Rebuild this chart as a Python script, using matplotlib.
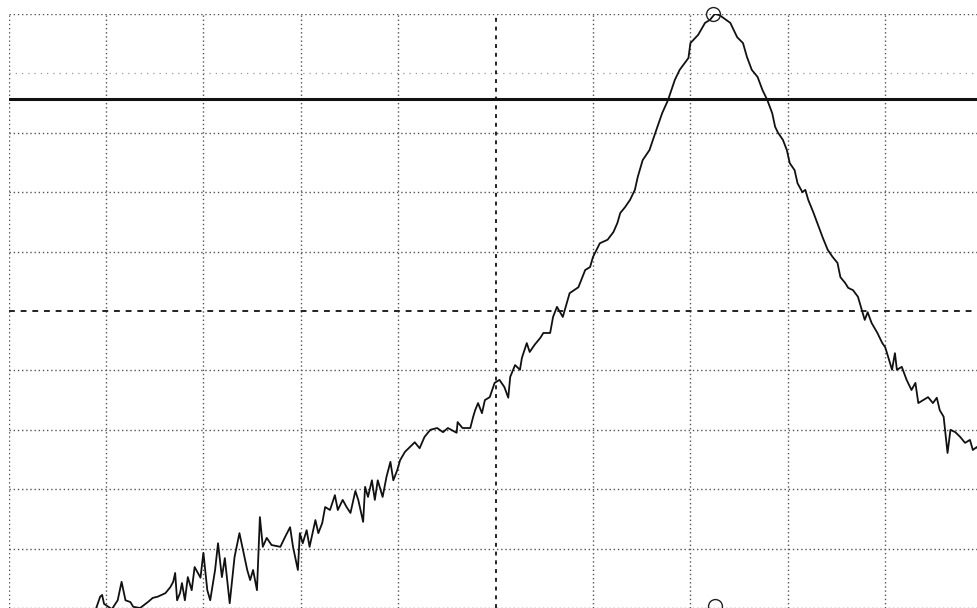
import matplotlib
matplotlib.use("Agg")
import matplotlib.pyplot as plt

# spectrum trace: frequency (span 0..100, 10 per div) and level in dB (10 dB/div)
freq = [9.0, 9.4, 9.6, 9.8, 10.6, 11.2, 11.6, 12.0, 12.5, 12.8, 13.5, 14.3, 14.8, 15.3,
        16.1, 16.6, 16.9, 17.1, 17.3, 17.6, 17.8, 18.1, 18.4, 18.8, 19.1, 19.7, 20.0, 20.4,
        20.7, 21.2, 21.5, 21.9, 22.2, 22.7, 23.2, 23.7, 24.0, 24.5, 24.8, 25.1, 25.5, 25.8,
        26.1, 26.5, 27.0, 27.9, 28.4, 28.9, 29.2, 29.7, 29.9, 30.2, 30.6, 30.9, 31.5, 31.8,
        32.2, 32.5, 33.0, 33.5, 33.8, 34.3, 34.7, 35.1, 35.6, 35.9, 36.4, 36.6, 36.9, 37.3,
        37.6, 37.9, 38.4, 38.8, 39.2, 39.5, 39.9, 40.2, 40.7, 41.2, 41.7, 42.2, 42.7, 43.3,
        44.0, 44.6, 45.1, 46.0, 46.1, 46.6, 47.4, 47.7, 47.9, 48.2, 48.6, 48.9, 49.4, 49.9,
        50.4, 50.9, 51.3, 51.5, 52.0, 52.5, 52.7, 53.2, 53.5, 54.0, 54.6, 54.9, 55.6, 55.9,
        56.3, 56.9, 57.6, 58.5, 59.2, 59.7, 60.0, 60.7, 61.5, 62.1, 62.5, 62.8, 63.3, 63.8,
        64.3, 64.6, 65.1, 65.8, 66.4, 67.1, 67.7, 68.4, 68.9, 69.8, 70.0, 70.8, 71.5, 72.0,
        72.5, 73.0, 74.1, 74.8, 75.4, 75.8, 76.3, 76.9, 77.4, 77.9, 78.4, 78.7, 79.0, 79.5,
        79.9, 80.2, 80.7, 81.0, 81.5, 81.8, 82.1, 82.6, 83.1, 83.6, 84.1, 84.6, 85.1, 85.4,
        85.9, 86.2, 86.7, 87.2, 87.6, 87.9, 88.2, 88.6, 89.2, 89.7, 90.0, 90.3, 90.7, 91.0,
        91.2, 91.7, 92.2, 92.7, 93.1, 93.4, 93.9, 94.4, 94.9, 95.3, 95.6, 96.0, 96.4, 96.7,
        97.2, 97.7, 98.2, 98.7, 99.0, 99.4, 99.7]
level = [-100.0, -98.1, -97.8, -99.3, -100.2, -98.7, -95.6, -98.7, -99.0, -99.8, -100.0, -99.0,
         -98.3, -98.1, -97.5, -96.5, -95.6, -94.1, -98.7, -97.5, -95.8, -98.7, -94.8, -97.0,
         -93.1, -94.9, -90.7, -97.0, -98.7, -93.6, -89.1, -94.8, -91.6, -99.2, -91.4, -87.4,
         -89.7, -93.6, -95.3, -93.6, -97.0, -84.7, -89.7, -88.2, -89.4, -89.7, -88.0, -86.4,
         -89.7, -93.6, -87.4, -89.1, -86.9, -89.7, -85.2, -87.4, -85.7, -83.0, -83.5, -81.0,
         -83.5, -81.8, -83.0, -84.0, -80.3, -81.8, -85.5, -79.6, -81.3, -78.5, -81.8, -78.5,
         -81.3, -77.9, -75.4, -78.5, -76.8, -75.1, -73.7, -72.9, -72.1, -73.1, -71.2, -70.0,
         -69.7, -70.4, -69.7, -70.5, -68.7, -69.7, -69.7, -67.8, -66.7, -65.5, -67.2, -65.0,
         -64.5, -62.1, -61.6, -62.8, -64.6, -61.1, -59.1, -59.9, -57.9, -55.4, -56.9, -55.7,
         -54.5, -53.7, -53.7, -51.0, -49.3, -51.0, -47.0, -46.0, -43.1, -42.6, -40.9, -38.6,
         -38.0, -36.7, -35.2, -33.5, -32.5, -31.3, -29.6, -27.4, -24.6, -22.9, -20.0, -16.7,
         -14.5, -11.1, -9.4, -7.4, -4.9, -3.5, -1.5, -1.0, 0.0, -0.2, -1.5, -3.9, -4.9, -7.2,
         -9.4, -10.6, -12.8, -14.5, -16.7, -19.0, -20.0, -21.2, -22.9, -25.1, -26.3, -28.5,
         -30.0, -29.6, -31.3, -33.3, -35.5, -37.7, -39.7, -40.9, -41.9, -44.3, -45.3, -46.1,
         -46.5, -47.6, -49.8, -51.5, -50.2, -52.0, -53.7, -55.4, -56.1, -57.7, -59.9, -57.1,
         -59.9, -59.4, -61.6, -63.3, -62.1, -65.5, -65.0, -64.5, -65.5, -64.6, -66.7, -67.8,
         -73.9, -70.0, -70.4, -71.2, -72.2, -71.7, -73.4, -72.9, -73.7]

ref_level = -14.3
marker_freq = [72.3, 72.5]
marker_level = [0.0, -99.6]

fig = plt.figure(figsize=(9.77, 6.08), dpi=100)
ax = fig.add_axes([8.6 / 977, 0.0, 974 / 977, 594 / 608])
ax.set_xlim(0, 100)
ax.set_ylim(-100, 0)
for s in ax.spines.values():
    s.set_visible(False)
ax.set_xticks([])
ax.set_yticks([])

# screen graticule
for gx in range(0, 101, 10):
    if gx == 50:
        ax.axvline(gx, color="#222222", lw=1.4, ls=(0, (2, 2.5)), zorder=1)
    else:
        ax.axvline(gx, color="#555555", lw=1.0, ls=(0, (1, 2)), zorder=1)
for gy in range(-100, 1, 10):
    if gy == -50:
        ax.axhline(gy, color="#222222", lw=1.4, ls=(0, (3, 3)), zorder=1)
    elif gy == -10:
        ax.axhline(gy, color="#999999", lw=0.9, ls=(0, (1, 4)), zorder=1)
    else:
        ax.axhline(gy, color="#555555", lw=1.0, ls=(0, (1, 2)), zorder=1)

ax.axhline(ref_level, color="#111111", lw=2.2, zorder=2)
ax.plot(freq, level, color="#111111", lw=1.3, zorder=3)
ax.plot(marker_freq, marker_level, "o", mfc="none", mec="#222222", ms=10, mew=1.0,
        clip_on=False, zorder=4)

fig.savefig("out.png", dpi=100)
